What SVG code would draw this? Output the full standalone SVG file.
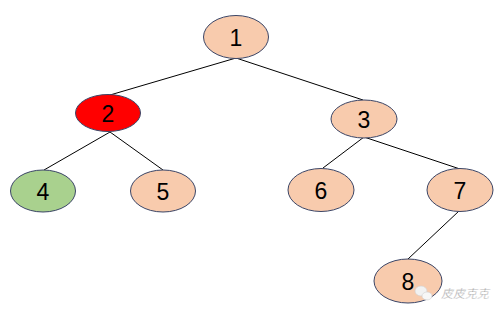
<svg xmlns="http://www.w3.org/2000/svg" width="503" height="316" viewBox="0 0 503 316">
<style>
.n ellipse{fill:#F8CBAD;stroke:#3B4566;stroke-width:1}
.n text{font-family:"Liberation Sans",Arial,sans-serif;font-size:23px;fill:#000;text-anchor:middle;dominant-baseline:central}
.e line{stroke:#000;stroke-width:1}
.wm{font-family:"Noto Sans CJK SC",sans-serif;font-size:12px;font-style:italic;fill:#8a8a8a;stroke:#fff;stroke-width:0.4}
</style>
<rect width="503" height="316" fill="#fff"/>
<g class="e" id="edges">
<line x1="236" y1="58" x2="110" y2="95"/>
<line x1="236" y1="58" x2="363" y2="100"/>
<line x1="110" y1="132" x2="44" y2="170"/>
<line x1="110" y1="132" x2="163" y2="170"/>
<line x1="364" y1="137" x2="323" y2="168"/>
<line x1="364" y1="137" x2="460" y2="169"/>
<line x1="459" y1="211" x2="408" y2="259"/>
</g>
<g class="n" id="node1"><ellipse cx="236" cy="37" rx="32.5" ry="21.5"/><text x="236" y="38">1</text></g>
<g class="n" id="node2"><ellipse cx="108" cy="113" rx="32.5" ry="18.5" style="fill:#FF0000"/><text x="108" y="114">2</text></g>
<g class="n" id="node3"><ellipse cx="364" cy="119" rx="33" ry="19"/><text x="364" y="120">3</text></g>
<g class="n" id="node4"><ellipse cx="43" cy="191" rx="32.5" ry="21" style="fill:#A9D18E"/><text x="43" y="192">4</text></g>
<g class="n" id="node5"><ellipse cx="163" cy="191" rx="32.5" ry="21"/><text x="163" y="192">5</text></g>
<g class="n" id="node6"><ellipse cx="321" cy="190" rx="33" ry="21.5"/><text x="321" y="191">6</text></g>
<g class="n" id="node7"><ellipse cx="460" cy="190" rx="33" ry="21.5"/><text x="460" y="191">7</text></g>
<g class="n" id="node8"><ellipse cx="408" cy="281" rx="34" ry="22"/><text x="408" y="282">8</text></g>
<g id="watermark">
<ellipse cx="421" cy="291" rx="6" ry="5" fill="#f2f2f2" stroke="#d0d0d0" stroke-width="0.6"/>
<ellipse cx="427" cy="296" rx="5" ry="4" fill="#f7f7f7" stroke="#d0d0d0" stroke-width="0.6"/>
<text class="wm" x="441" y="298">皮皮克克</text>
</g>
</svg>
